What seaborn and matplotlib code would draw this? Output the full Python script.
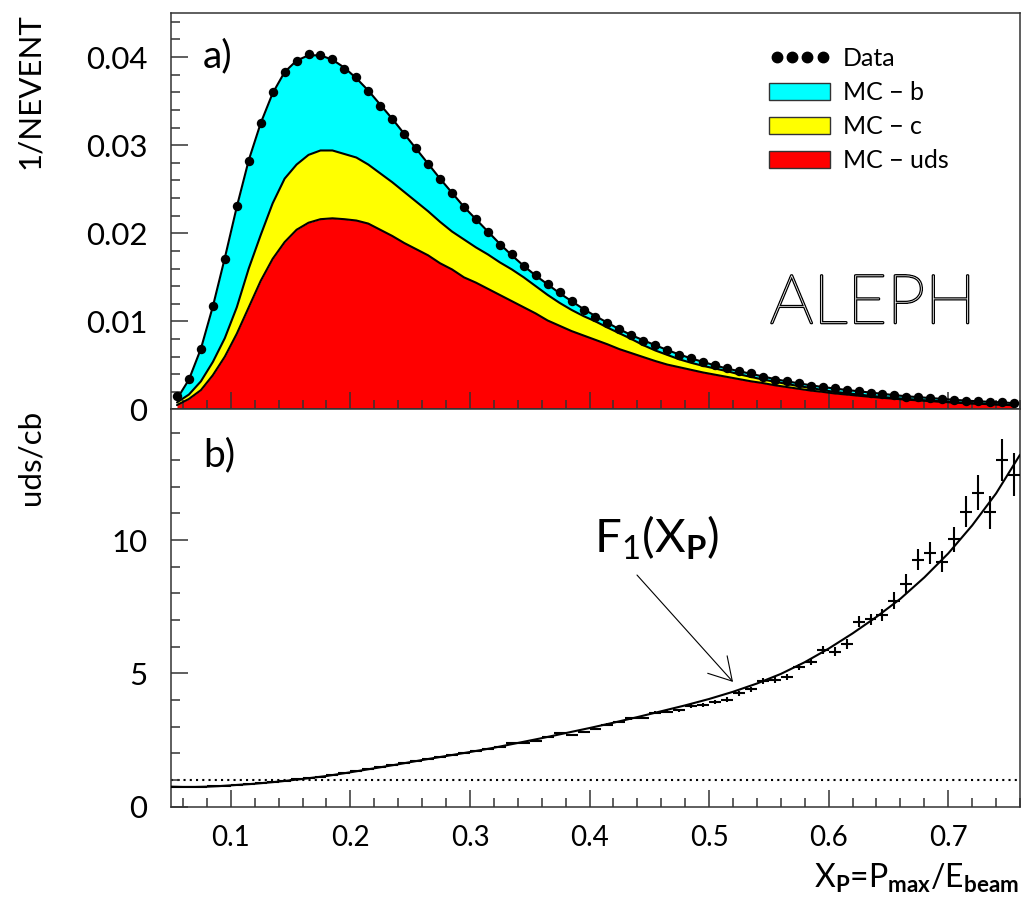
import numpy as np
import matplotlib
matplotlib.use("Agg")
import matplotlib.pyplot as plt
import seaborn as sns
from matplotlib.ticker import MultipleLocator, FuncFormatter
from matplotlib.lines import Line2D
from matplotlib.patches import Patch
import matplotlib.patheffects as pe

# ---------------------------------------------------------------- data
# bin centres of the x_p histograms (bin width 0.01)
xp = np.round(np.arange(0.055, 0.7551, 0.01), 3)

# upper panel, in units of 1e-3 per event
data_nevent = np.array([
    1.5, 3.5, 6.9, 11.7, 17.1, 23.1, 28.2, 32.5, 36.0, 38.3,
    39.5, 40.3, 40.2, 39.8, 38.6, 37.7, 36.2, 34.5, 33.0, 31.3,
    29.7, 27.9, 26.2, 24.6, 23.0, 21.6, 20.2, 18.7, 17.6, 16.3,
    15.25, 14.3, 13.3, 12.3, 11.3, 10.5, 9.8, 9.1, 8.4, 7.8,
    7.3, 6.8, 6.2, 5.8, 5.35, 5.0, 4.7, 4.4, 4.1, 3.7,
    3.4, 3.2, 3.0, 2.7, 2.5, 2.4, 2.25, 2.1, 1.9, 1.76,
    1.6, 1.45, 1.4, 1.3, 1.2, 1.08, 1.0, 0.93, 0.89, 0.85,
    0.7])

# stacked Monte Carlo: uds, uds+c, uds+c+b
mc_uds = np.array([
    0.5, 1.2, 2.2, 3.9, 6.0, 8.6, 11.6, 14.6, 17.1, 19.0,
    20.4, 21.2, 21.6, 21.7, 21.6, 21.45, 21.1, 20.4, 19.7, 18.9,
    18.2, 17.5, 16.6, 15.9, 15.0, 14.4, 13.7, 13.0, 12.3, 11.6,
    10.9, 10.1, 9.5, 8.9, 8.4, 7.9, 7.4, 6.85, 6.4, 5.95,
    5.5, 5.1, 4.8, 4.5, 4.2, 3.95, 3.7, 3.45, 3.2, 3.0,
    2.75, 2.55, 2.35, 2.15, 2.0, 1.82, 1.7, 1.56, 1.44, 1.32,
    1.22, 1.12, 1.03, 0.95, 0.87, 0.78, 0.71, 0.65, 0.6, 0.54,
    0.48])
mc_uds_c = np.array([
    0.8, 1.7, 3.2, 5.4, 8.1, 11.6, 16.0, 19.8, 23.4, 26.2,
    27.8, 28.9, 29.4, 29.4, 29.0, 28.6, 27.8, 26.8, 25.8, 24.7,
    23.6, 22.5, 21.3, 20.2, 19.3, 18.4, 17.6, 16.7, 15.9, 15.0,
    14.0, 13.0, 12.1, 11.3, 10.6, 10.0, 9.3, 8.65, 8.0, 7.3,
    6.7, 6.2, 5.7, 5.3, 4.95, 4.65, 4.35, 4.0, 3.7, 3.4,
    3.15, 2.9, 2.65, 2.45, 2.2, 2.0, 1.85, 1.7, 1.55, 1.42,
    1.3, 1.2, 1.1, 1.0, 0.92, 0.82, 0.74, 0.68, 0.62, 0.56,
    0.5])
mc_all = np.array([
    1.2, 3.4, 6.9, 11.7, 17.2, 23.0, 28.3, 32.5, 35.9, 38.3,
    39.6, 40.2, 40.2, 39.7, 38.8, 37.6, 36.2, 34.6, 33.0, 31.3,
    29.6, 27.9, 26.2, 24.6, 23.0, 21.6, 20.2, 18.8, 17.5, 16.3,
    15.2, 14.2, 13.2, 12.3, 11.4, 10.6, 9.85, 9.1, 8.45, 7.85,
    7.3, 6.75, 6.25, 5.8, 5.4, 5.0, 4.65, 4.35, 4.05, 3.75,
    3.45, 3.2, 2.97, 2.75, 2.55, 2.38, 2.22, 2.07, 1.92, 1.78,
    1.63, 1.5, 1.4, 1.3, 1.2, 1.1, 1.01, 0.93, 0.87, 0.81,
    0.72])
scale = 1e-3

# lower panel: uds/cb ratio with errors
ratio = np.array([
    0.74, 0.75, 0.73, 0.77, 0.78, 0.80, 0.85, 0.87, 0.93, 0.95,
    1.02, 1.06, 1.13, 1.18, 1.27, 1.32, 1.42, 1.47, 1.56, 1.62,
    1.72, 1.78, 1.88, 1.93, 2.03, 2.07, 2.18, 2.24, 2.37, 2.40,
    2.48, 2.62, 2.75, 2.69, 2.80, 2.90, 3.08, 3.18, 3.31, 3.33,
    3.52, 3.56, 3.62, 3.77, 3.81, 3.93, 4.02, 4.25, 4.40, 4.72,
    4.75, 4.85, 5.23, 5.44, 5.87, 5.81, 6.09, 6.94, 7.03, 7.19,
    7.72, 8.37, 9.27, 9.52, 9.19, 10.03, 11.07, 11.78, 11.04, 13.0,
    12.46])
ratio_err = np.array([
    0.02, 0.02, 0.02, 0.02, 0.02, 0.02, 0.02, 0.02, 0.02, 0.02,
    0.02, 0.02, 0.02, 0.02, 0.02, 0.02, 0.02, 0.02, 0.02, 0.02,
    0.025, 0.025, 0.025, 0.025, 0.025, 0.025, 0.025, 0.025, 0.025, 0.025,
    0.03, 0.03, 0.035, 0.035, 0.04, 0.04, 0.045, 0.045, 0.05, 0.05,
    0.055, 0.06, 0.06, 0.065, 0.07, 0.075, 0.08, 0.085, 0.09, 0.1,
    0.1, 0.11, 0.12, 0.14, 0.15, 0.17, 0.19, 0.2, 0.2, 0.22,
    0.32, 0.34, 0.4, 0.4, 0.4, 0.47, 0.57, 0.66, 0.61, 0.78,
    0.81])
half_bin = 0.005

# fitted F1(x_p)
f1_x = np.array([0.05, 0.06, 0.07, 0.08, 0.09, 0.10, 0.12, 0.14, 0.16, 0.18,
                 0.20, 0.22, 0.24, 0.26, 0.28, 0.30, 0.32, 0.34, 0.36, 0.38,
                 0.40, 0.42, 0.44, 0.46, 0.48, 0.50, 0.52, 0.54, 0.56, 0.58,
                 0.60, 0.62, 0.64, 0.66, 0.68, 0.70, 0.72, 0.74, 0.76])
f1_y = np.array([0.75, 0.74, 0.74, 0.75, 0.77, 0.80, 0.86, 0.94, 1.04, 1.15,
                 1.29, 1.44, 1.59, 1.75, 1.90, 2.05, 2.21, 2.39, 2.57, 2.76,
                 2.95, 3.15, 3.36, 3.58, 3.80, 4.04, 4.31, 4.62, 4.98, 5.42,
                 5.93, 6.50, 7.12, 7.80, 8.60, 9.50, 10.55, 11.75, 13.2])

legend_labels = ["Data", "MC \u2212 b", "MC \u2212 c", "MC \u2212 uds"]
fill_colors = {"b": "#00ffff", "c": "#ffff00", "uds": "#ff0000"}

# ---------------------------------------------------------------- style
sns.set_style("ticks")
plt.rcParams["font.family"] = ["Lato", "DejaVu Sans"]
plt.rcParams["font.weight"] = "normal"
plt.rcParams["text.color"] = "black"
plt.rcParams["axes.labelcolor"] = "black"
plt.rcParams["xtick.labelcolor"] = "black"
plt.rcParams["ytick.labelcolor"] = "black"
plt.rcParams["mathtext.fontset"] = "custom"
plt.rcParams["mathtext.rm"] = "Lato"
plt.rcParams["mathtext.bf"] = "Lato:bold"
plt.rcParams["mathtext.it"] = "Lato:italic"
frame_col = "#333333"

fig = plt.figure(figsize=(10.21, 8.99), dpi=100)
ax1 = fig.add_axes([0.1675, 0.5445, 0.8315, 0.441])
ax2 = fig.add_axes([0.1675, 0.1027, 0.8315, 0.4418])

for ax in (ax1, ax2):
    ax.set_xlim(0.05, 0.76)
    ax.xaxis.set_major_locator(MultipleLocator(0.1))
    ax.xaxis.set_minor_locator(MultipleLocator(0.02))
    ax.tick_params(which="both", direction="in", top=False, right=False,
                   color=frame_col, width=1.1)
    ax.tick_params(which="major", length=12.5)
    ax.tick_params(which="minor", length=6.3)
    ax.tick_params(axis="y", labelsize=22.5, pad=17)
    ax.tick_params(axis="x", labelsize=20, pad=13)
    for sp in ax.spines.values():
        sp.set_color(frame_col)
        sp.set_linewidth(1.1)
    ax.set_axisbelow(False)
    ax.set_facecolor("white")

# ---------------------------------------------------------------- panel a
y_uds = mc_uds * scale
y_udsc = mc_uds_c * scale
y_all = mc_all * scale
ax1.fill_between(xp, 0, y_uds, color=fill_colors["uds"], lw=0, zorder=1)
ax1.fill_between(xp, y_uds, y_udsc, color=fill_colors["c"], lw=0, zorder=1)
ax1.fill_between(xp, y_udsc, y_all, color=fill_colors["b"], lw=0, zorder=1)
for top in (y_uds, y_udsc, y_all):
    sns.lineplot(x=xp, y=top, ax=ax1, color="black", lw=1.5, zorder=3)
sns.scatterplot(x=xp, y=data_nevent * scale, ax=ax1, color="black",
                s=46, linewidth=0, zorder=4)

ax1.set_ylim(0, 0.045)
ax1.yaxis.set_major_locator(MultipleLocator(0.01))
ax1.yaxis.set_minor_locator(MultipleLocator(0.002))
ax1.yaxis.set_major_formatter(FuncFormatter(
    lambda v, _: "0" if abs(v) < 1e-9 else f"{v:.2f}"))
ax1.tick_params(axis="x", labelbottom=False)
ax1.set_xlabel("")
ax1.set_ylabel("1/NEVENT", fontsize=22.5, loc="top")
ax1.yaxis.set_label_coords(-0.1496, 1.0)

ax1.text(0.0377, 0.864, "a)", transform=ax1.transAxes, fontsize=28,
         ha="left", va="baseline")

handles = [
    Line2D([], [], marker="o", ls="none", color="black", markersize=7.5),
    Patch(facecolor=fill_colors["b"], edgecolor=frame_col, lw=1.0),
    Patch(facecolor=fill_colors["c"], edgecolor=frame_col, lw=1.0),
    Patch(facecolor=fill_colors["uds"], edgecolor=frame_col, lw=1.0),
]
ax1.legend(handles, legend_labels, loc="upper left",
           bbox_to_anchor=(0.7044, 0.914), frameon=False, fontsize=18,
           numpoints=4, handlelength=2.44, handleheight=0.7,
           handletextpad=0.52, labelspacing=0.44, borderpad=0,
           borderaxespad=0)

ax1.text(0.7055, 0.218, "ALEPH", transform=ax1.transAxes, fontsize=49,
         color="white", ha="left", va="baseline", fontweight="light",
         path_effects=[pe.withStroke(linewidth=1.8, foreground="black")])

# ---------------------------------------------------------------- panel b
ax2.axhline(1.0, color="black", lw=1.5, ls=(0, (1, 2)), zorder=2)
sns.lineplot(x=f1_x, y=f1_y, ax=ax2, color="black", lw=1.5, zorder=3)
ax2.errorbar(xp, ratio, xerr=half_bin, yerr=ratio_err, fmt="none",
             ecolor="black", elinewidth=1.5, capsize=0, zorder=4)

ax2.set_ylim(0, 14.9)
ax2.yaxis.set_major_locator(MultipleLocator(5))
ax2.yaxis.set_minor_locator(MultipleLocator(1))
ax2.set_xlabel("")
ax2.set_ylabel("uds/cb", fontsize=22.5, loc="top")
ax2.yaxis.set_label_coords(-0.1496, 1.0)

ax2.text(0.0377, 0.856, "b)", transform=ax2.transAxes, fontsize=28,
         ha="left", va="baseline")

ax2.text(0.4038, 9.51, r"$\mathrm{F_{1}(X_{\mathbf{P}})}$", fontsize=34,
         ha="left", va="baseline")
ax2.annotate("", xy=(0.520, 4.68), xytext=(0.4397, 8.69),
             arrowprops=dict(arrowstyle="->,head_length=0.8,head_width=0.47",
                             lw=0.8, color="black", mutation_scale=20,
                             shrinkA=0, shrinkB=0))

fig.text(1019 / 1021, 1 - 888 / 899,
         r"$\mathrm{X_{\mathbf{P}}}$=$\mathrm{P_{\mathbf{max}}/E_{\mathbf{beam}}}$",
         fontsize=23, ha="right", va="baseline")

fig.savefig("out.png", dpi=100)
